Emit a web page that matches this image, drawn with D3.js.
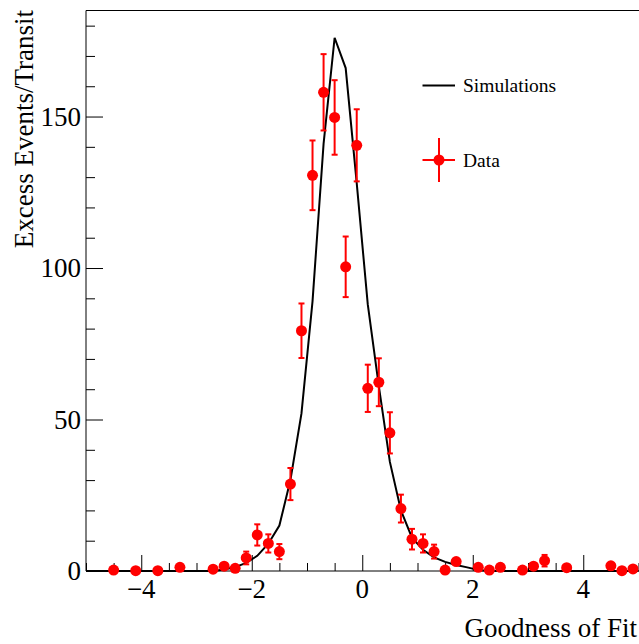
<!DOCTYPE html>
<html>
<head>
<meta charset="utf-8">
<script src="https://cdn.jsdelivr.net/npm/d3@7"></script>
<style>
  html, body { margin: 0; padding: 0; background: #fff; }
  svg { display: block; }
  text { font-family: "Liberation Serif", "Times New Roman", serif; fill: #000; }
</style>
</head>
<body>
<svg id="chart" width="639" height="644"></svg>
<script>
// ---- data ----
const dataX = [-4.5,-4.1,-3.7,-3.3,-2.7,-2.5,-2.3,-2.1,-1.9,-1.7,-1.5,-1.3,-1.1,-0.9,-0.7,-0.5,-0.3,-0.1,
               0.1,0.3,0.5,0.7,0.9,1.1,1.3,1.5,1.7,2.1,2.3,2.5,2.9,3.1,3.3,3.7,4.5,4.7,4.9];
const dataY = [0.3,0.1,0.1,1.2,0.6,1.6,0.9,4.3,11.9,9.1,6.4,28.7,79.3,130.6,158,149.7,100.4,140.5,
               60.3,62.3,45.6,20.6,10.5,9.1,6.4,0.3,3.1,1.2,0.3,1.2,0.3,1.6,3.4,1.1,1.7,0.1,0.7];
const dataErr = [0.5,0.3,0.3,1.1,0.8,1.3,1.0,2.1,3.5,3.0,2.5,5.3,9.0,11.5,12.6,12.3,10.0,11.9,
                 7.8,7.9,6.8,4.6,3.4,3.0,2.3,0.5,1.8,1.1,0.5,1.1,0.5,1.3,1.9,1.0,1.3,0.3,0.8];

const simX = [-5.0,-2.7,-2.5,-2.3,-2.1,-1.9,-1.7,-1.5,-1.3,-1.1,-0.9,-0.7,-0.5,-0.3,-0.1,
              0.1,0.3,0.5,0.7,0.9,1.1,1.3,1.5,1.7,1.9,2.1,2.3,5.0];
const simY = [0,0,0.5,1.3,2.7,5,9,15,30,52,89,141,176,166,128,
              88,61,36,20,11,7,4.5,3,2,1.2,0.3,0,0];

const xTickLabels = [-4,-2,0,2,4];
const yTickLabels = [0,50,100,150];
const legendLabels = ["Simulations","Data"];
const xTitle = "Goodness of Fit";
const yTitle = "Excess Events/Transit";

// ---- layout ----
const svg = d3.select("#chart");
const x = d3.scaleLinear().domain([-5, 5]).range([86, 638.5]);
const y = d3.scaleLinear().domain([0, 185]).range([571, 10.5]);
const fmt = d => (d < 0 ? "\u2212" + Math.abs(d) : String(d));

// frame (left + top)
svg.append("line").attr("x1", 86).attr("x2", 86).attr("y1", y(185)).attr("y2", y(0))
   .attr("stroke", "#000").attr("stroke-width", 1);
svg.append("line").attr("x1", 86).attr("x2", 639).attr("y1", y(185)).attr("y2", y(185))
   .attr("stroke", "#000").attr("stroke-width", 1);

// x axis (ticks inward)
const xMinor = d3.range(-5, 5.01, 0.5).map(v => +v.toFixed(1));
const xAxisMinor = d3.axisTop(x).tickValues(xMinor.filter(v => !xTickLabels.includes(v)))
   .tickSize(8).tickFormat("");
const xAxisMajor = d3.axisTop(x).tickValues(xTickLabels).tickSize(16).tickFormat("");
[xAxisMinor, xAxisMajor].forEach(ax => {
  const g = svg.append("g").attr("transform", `translate(0,${y(0)})`).call(ax);
  g.select(".domain").remove();
  g.selectAll("line").attr("stroke", "#000").attr("stroke-width", 1);
});
svg.append("line").attr("x1", 86).attr("x2", 639).attr("y1", y(0)).attr("y2", y(0))
   .attr("stroke", "#000").attr("stroke-width", 1);
svg.append("g").selectAll("text").data(xTickLabels).join("text")
   .attr("x", d => x(d)).attr("y", 598).attr("text-anchor", "middle")
   .attr("font-size", 27).text(fmt);

// y axis (ticks inward)
const yMinor = d3.range(0, 181, 10).filter(v => !yTickLabels.includes(v));
const yAxisMinor = d3.axisRight(y).tickValues(yMinor).tickSize(9).tickFormat("");
const yAxisMajor = d3.axisRight(y).tickValues(yTickLabels).tickSize(17).tickFormat("");
[yAxisMinor, yAxisMajor].forEach(ax => {
  const g = svg.append("g").attr("transform", `translate(86,0)`).call(ax);
  g.select(".domain").remove();
  g.selectAll("line").attr("stroke", "#000").attr("stroke-width", 1);
});
svg.append("g").selectAll("text").data(yTickLabels).join("text")
   .attr("x", 81).attr("y", d => y(d)).attr("dy", "0.35em").attr("text-anchor", "end")
   .attr("font-size", 27).text(fmt);

// titles
svg.append("text").attr("x", 637).attr("y", 637).attr("text-anchor", "end")
   .attr("font-size", 27).text(xTitle);
svg.append("text").attr("transform", "translate(32.5,10) rotate(-90)")
   .attr("text-anchor", "end").attr("font-size", 27).text(yTitle);

// simulation line
svg.append("path")
   .datum(simX.map((v, i) => [v, simY[i]]))
   .attr("fill", "none").attr("stroke", "#000").attr("stroke-width", 2)
   .attr("stroke-linejoin", "miter")
   .attr("d", d3.line().x(d => x(d[0])).y(d => y(d[1])));

// data with error bars
const pts = dataX.map((v, i) => ({x: v, y: dataY[i], e: dataErr[i]}));
const R = 5.5;
const gd = svg.append("g");
pts.forEach(p => {
  const cx = x(p.x), cy = y(p.y);
  const top = y(p.y + p.e), bot = y(p.y - p.e);
  if (cy - top > R) {
    gd.append("line").attr("x1", cx).attr("x2", cx).attr("y1", top).attr("y2", bot)
      .attr("stroke", "red").attr("stroke-width", 2);
    [top, bot].forEach(yy => gd.append("line").attr("x1", cx - 3).attr("x2", cx + 3)
      .attr("y1", yy).attr("y2", yy).attr("stroke", "red").attr("stroke-width", 2));
  }
  gd.append("circle").attr("cx", cx).attr("cy", cy).attr("r", R).attr("fill", "red");
});

// legend
const lg = svg.append("g");
lg.append("line").attr("x1", 422.5).attr("x2", 455).attr("y1", 85.5).attr("y2", 85.5)
  .attr("stroke", "#000").attr("stroke-width", 2);
lg.append("text").attr("x", 463).attr("y", 92).attr("font-size", 19.5).text(legendLabels[0]);
lg.append("line").attr("x1", 422.5).attr("x2", 455).attr("y1", 160).attr("y2", 160)
  .attr("stroke", "red").attr("stroke-width", 2);
lg.append("line").attr("x1", 439).attr("x2", 439).attr("y1", 138).attr("y2", 182)
  .attr("stroke", "red").attr("stroke-width", 2);
lg.append("circle").attr("cx", 439).attr("cy", 160).attr("r", R).attr("fill", "red");
lg.append("text").attr("x", 463).attr("y", 167).attr("font-size", 19.5).text(legendLabels[1]);
</script>
</body>
</html>
